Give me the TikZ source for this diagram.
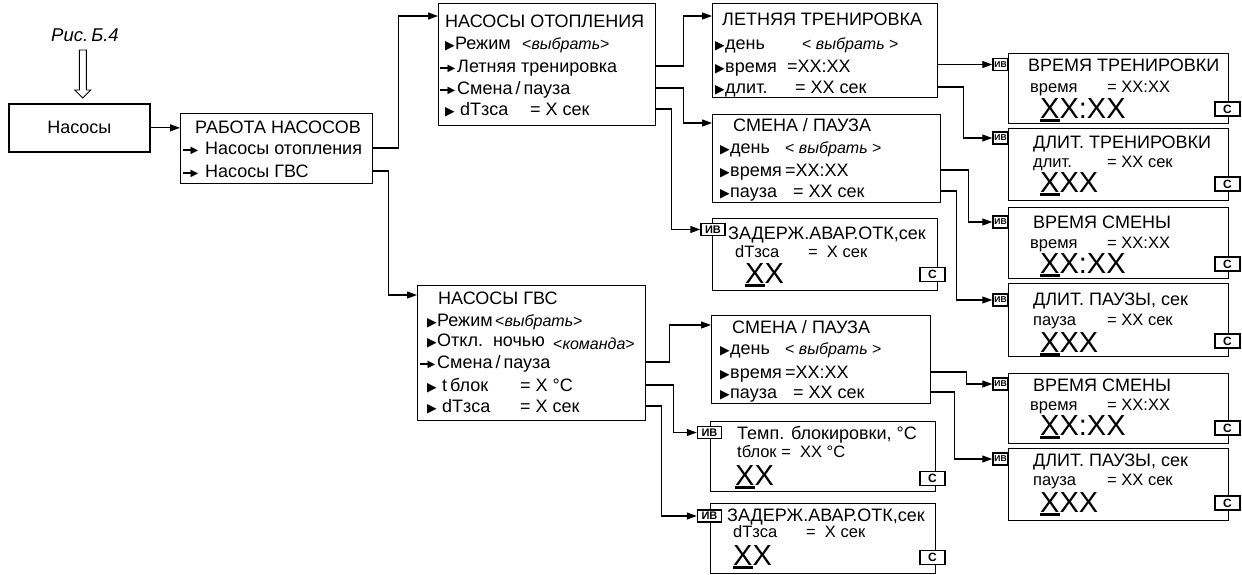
\documentclass[tikz,border=0pt]{standalone}
\usepackage{fontspec}
\setmainfont{Liberation Sans}
\newfontfamily\symfont{DejaVu Sans}
\usetikzlibrary{positioning, arrows.meta, calc}
\newcommand{\bul}{\makebox[10pt][l]{\symfont\fontsize{12.5}{12.5}\selectfont ▶}}
\newcommand{\arr}{\makebox[17pt][l]{\rule[4pt]{9pt}{1.4pt}\kern-1.5pt\raisebox{0.8pt}{\symfont\fontsize{10}{10}\selectfont ▶}}}
\newcommand{\pick}[1]{{\fontsize{16}{16}\selectfont<\textit{#1}>}}
\newcommand{\colw}[2]{\makebox[#1pt][l]{#2}}
\newcommand{\ux}{\rlap{\rule[-0.12em]{0.667em}{0.11em}}X}
\tikzset{
  panel/.style = {draw, line width=1.3pt, anchor=north west, inner sep=0pt},
  frame/.style = {panel, line width=1.7pt, font=\fontsize{18}{18}\selectfont},
  row/.style   = {anchor=west, inner sep=0pt, text height=13pt, text depth=0pt,
                  font=\fontsize{18}{18}\selectfont},
  head/.style  = {row, text height=13pt, font=\fontsize{18}{18}\selectfont},
  sub/.style   = {row, text height=11.8pt, font=\fontsize{16.5}{16.5}\selectfont},
  big/.style   = {row, text height=21pt, font=\fontsize{29}{29}\selectfont},
  ivtag/.style = {draw, fill=white, line width=1.5pt, inner sep=0pt,
                  minimum width=15pt, minimum height=12pt,
                  font=\bfseries\fontsize{8.5}{8.5}\selectfont},
  ivwide/.style = {ivtag, minimum width=24pt, font=\bfseries\fontsize{11}{11}\selectfont},
  ctag/.style  = {draw, fill=white, line width=1.5pt, inner sep=0pt,
                  minimum width=25pt, minimum height=14pt,
                  font=\bfseries\fontsize{12}{12}\selectfont},
  hollow/.style = {draw, fill=white, line width=0.9pt, line join=miter},
  flow/.style  = {line width=1.2pt, -{Triangle[length=10pt,width=7pt]}},
}
\begin{document}
\begin{tikzpicture}[x=1pt, y=-1pt]
\useasboundingbox (0,0) rectangle (1242,574);

% Entry
\node (cap) [font=\itshape\fontsize{18.5}{18.5}\selectfont] at (85,35) {Рис.\,Б.4};
\node (pump) [frame, minimum width=141pt, minimum height=48pt] at (8,103) {Насосы};
\coordinate (tip) at ($(pump.north)+(3.5,-5)$);
\draw [hollow] (tip) -- ++(8,-8) -- ++(-4.5,0) -- ++(0,-40) -- ++(-7,0)
  -- ++(0,40) -- ++(-4.5,0) -- cycle;

% Pump work menu
\node (work) [panel, minimum width=192pt, minimum height=70pt] at (180,113) {};
\node (work1) [row] at (195,127) {РАБОТА НАСОСОВ};
\node (work2) [row] at (183,148) {\arr\ Насосы отопления};
\node (work3) [row] at (183,171) {\arr\ Насосы ГВС};

% Heating pumps
\node (heat) [panel, minimum width=217pt, minimum height=122pt] at (438,3) {};
\node (heat1) [row] at (445,21) {НАСОСЫ ОТОПЛЕНИЯ};
\node (heat2) [row] at (445,43) {\bul\colw{67}{Режим}\pick{выбрать}};
\node (heat3) [row] at (440,66) {\arr Летняя тренировка};
\node (heat4) [row] at (440,88) {\arr Смена\,/\,пауза};
\node (heat5) [row] at (445,109) {\bul\ \colw{70}{dTзса}= X сек};

% Summer run
\node (summer) [panel, minimum width=225pt, minimum height=94pt] at (712,3) {};
\node (summer1) [row] at (722,19) {ЛЕТНЯЯ ТРЕНИРОВКА};
\node (summer2) [row] at (715,43) {\bul\colw{77}{день}\pick{\ выбрать\ }};
\node (summer3) [row] at (715,66) {\bul\colw{62}{время}=XX:XX};
\node (summer4) [row] at (715,87) {\bul\colw{70}{длит.}= XX сек};

% Swap / pause (heating)
\node (swapa) [panel, minimum width=228pt, minimum height=88pt] at (712,114) {};
\node (swapa1) [row] at (733,125) {СМЕНА / ПАУЗА};
\node (swapa2) [row] at (720,147) {\bul\colw{55}{день}\pick{\ выбрать\ }};
\node (swapa3) [row] at (720,170) {\bul\colw{55}{время}=XX:XX};
\node (swapa4) [row] at (720,191) {\bul\colw{63}{пауза}= XX сек};

% Failure delay (heating)
\node (delaya) [panel, minimum width=225pt, minimum height=72pt] at (712,218) {};
\node (iva) [ivwide] at (713,229.5) {ИВ};
\node (delaya1) [head] at (728,233) {ЗАДЕРЖ.АВАР.ОТК,сек};
\node (delaya2) [sub] at (735,252) {\colw{73}{dTзса}=\ \ X сек};
\node (delaya3) [big] at (745,273) {\ux X};
\node (ca) [ctag] at (932.5,274.5) {С};

% Hot water pumps
\node (hot) [panel, minimum width=228pt, minimum height=135pt] at (417,285) {};
\node (hot1) [row] at (438,298) {НАСОСЫ ГВС};
\node (hot2) [row] at (427,320) {\bul\colw{58}{Режим}\pick{выбрать}};
\node (hot3) [row] at (427,340) {\bul\colw{116}{Откл.\ \ ночью}\raisebox{-3pt}{\pick{команда}}};
\node (hot4) [row] at (420,362) {\arr Смена\,/\,пауза};
\node (hot5) [row] at (427,385) {\bul\ \colw{78}{t\,блок}= X °C};
\node (hot6) [row] at (427,406) {\bul\ \colw{78}{dTзса}= X сек};

% Swap / pause (hot water)
\node (swapb) [panel, minimum width=219pt, minimum height=88pt] at (711,315) {};
\node (swapb1) [row] at (732,327) {СМЕНА / ПАУЗА};
\node (swapb2) [row] at (720,348) {\bul\colw{55}{день}\pick{\ выбрать\ }};
\node (swapb3) [row] at (720,372) {\bul\colw{55}{время}=XX:XX};
\node (swapb4) [row] at (720,392) {\bul\colw{63}{пауза}= XX сек};

% Blocking temperature
\node (temp) [panel, minimum width=225pt, minimum height=70pt] at (710,421) {};
\node (ivt) [ivwide] at (709.5,432.5) {ИВ};
\node (temp1) [head] at (737,433) {Темп. блокировки, °C};
\node (temp2) [sub] at (737,452) {tблок =\ \ XX °C};
\node (temp3) [big] at (735,475) {\ux X};
\node (ct) [ctag] at (932.5,478.5) {С};

% Failure delay (hot water)
\node (delayb) [panel, minimum width=225pt, minimum height=70pt] at (710,503) {};
\node (ivb) [ivwide] at (709.5,516) {ИВ};
\node (delayb1) [head] at (727,515) {ЗАДЕРЖ.АВАР.ОТК,сек};
\node (delayb2) [sub] at (733,532) {\colw{73}{dTзса}=\ \ X сек};
\node (delayb3) [big] at (733,555) {\ux X};
\node (cb) [ctag] at (932.5,557.5) {С};

% Edit screens, right column
\node (runt) [panel, minimum width=220pt, minimum height=70pt] at (1008,53) {};
\node (ivrt) [ivtag] at (1000.5,64.5) {ИВ};
\node (runt1) [head] at (1028,65) {ВРЕМЯ ТРЕНИРОВКИ};
\node (runt2) [sub] at (1030,87) {\colw{77}{время}= XX:XX};
\node (runt3) [big] at (1040,108) {\ux X:XX};
\node (crt) [ctag] at (1227.5,109) {С};

\node (rund) [panel, minimum width=220pt, minimum height=72pt] at (1008,128) {};
\node (ivrd) [ivtag] at (1000.5,138) {ИВ};
\node (rund1) [head] at (1033,142) {ДЛИТ. ТРЕНИРОВКИ};
\node (rund2) [sub] at (1033,162) {\colw{74}{длит.}= XX сек};
\node (rund3) [big] at (1040,182) {\ux XX};
\node (crd) [ctag] at (1227.5,184) {С};

\node (swta) [panel, minimum width=220pt, minimum height=71pt] at (1008,207) {};
\node (ivsa) [ivtag] at (1000.5,222) {ИВ};
\node (swta1) [head] at (1033,222) {ВРЕМЯ СМЕНЫ};
\node (swta2) [sub] at (1030,243) {\colw{77}{время}= XX:XX};
\node (swta3) [big] at (1040,263) {\ux X:XX};
\node (csa) [ctag] at (1227.5,264) {С};

\node (psa) [panel, minimum width=220pt, minimum height=73pt] at (1008,283) {};
\node (ivpa) [ivtag] at (1000.5,300) {ИВ};
\node (psa1) [head] at (1033,299) {ДЛИТ. ПАУЗЫ, сек};
\node (psa2) [sub] at (1033,320) {\colw{74}{пауза}= XX сек};
\node (psa3) [big] at (1040,342) {\ux XX};
\node (cpa) [ctag] at (1227.5,341) {С};

\node (swtb) [panel, minimum width=220pt, minimum height=70pt] at (1008,373) {};
\node (ivsb) [ivtag] at (1000.5,384) {ИВ};
\node (swtb1) [head] at (1033,385) {ВРЕМЯ СМЕНЫ};
\node (swtb2) [sub] at (1030,405) {\colw{77}{время}= XX:XX};
\node (swtb3) [big] at (1040,425) {\ux X:XX};
\node (csb) [ctag] at (1227.5,428) {С};

\node (psb) [panel, minimum width=220pt, minimum height=72pt] at (1008,448) {};
\node (ivpb) [ivtag] at (1000.5,459) {ИВ};
\node (psb1) [head] at (1033,460) {ДЛИТ. ПАУЗЫ, сек};
\node (psb2) [sub] at (1033,480) {\colw{74}{пауза}= XX сек};
\node (psb3) [big] at (1040,502) {\ux XX};
\node (cpb) [ctag] at (1227.5,503) {С};

% Flows
\draw [flow] (pump.east) -- (pump.east -| work.west);
\draw [flow] (work.east |- work2) -- ++(25,0) |- ([yshift=-13pt]heat.north west);
\draw [flow] (work.east |- work3) -- ++(15,0) |- ([yshift=-10pt]hot.north west);
\draw [flow] (heat.east |- heat3) -- ++(27,0) |- ([yshift=-13pt]summer.north west);
\draw [flow] (heat.east |- heat4) -- ++(27,0) |- ([yshift=-9pt]swapa.north west);
\draw [flow] (heat.east |- heat5) -- ++(15,0) |- (iva.west);
\draw [flow] (summer.east |- ivrt) -- (ivrt.west);
\draw [flow] (summer.east |- summer4) -- ++(25,0) |- (ivrd.west);
\draw [flow] (swapa.east |- swapa3) -- ++(27,0) |- (ivsa.west);
\draw [flow] (swapa.east |- swapa4) -- ++(15,0) |- (ivpa.west);
\draw [flow] (hot.east |- hot4) -- ++(23,0) |- ([yshift=-10pt]swapb.north west);
\draw [flow] (hot.east |- hot5) -- ++(27,0) |- (ivt.west);
\draw [flow] (hot.east |- hot6) -- ++(15,0) |- (ivb.west);
\draw [flow] (swapb.east |- swapb3) -- ++(35,0) |- (ivsb.west);
\draw [flow] (swapb.east |- swapb4) -- ++(23,0) |- (ivpb.west);

\end{tikzpicture}
\end{document}
